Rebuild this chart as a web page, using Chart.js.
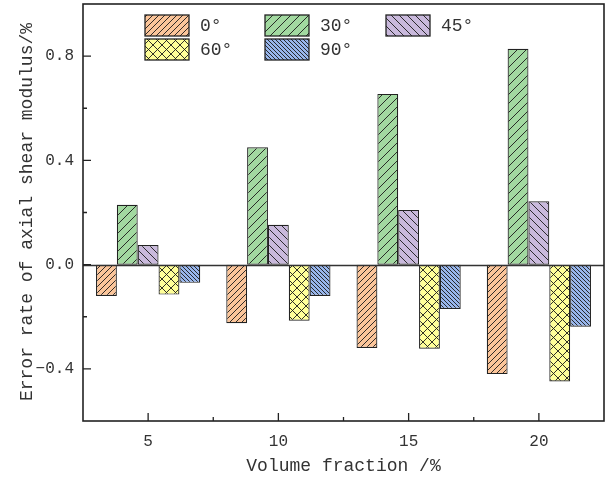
<!DOCTYPE html>
<html>
<head>
<meta charset="utf-8">
<script src="https://cdn.jsdelivr.net/npm/chart.js@4/dist/chart.umd.min.js"></script>
<style>
  html, body { margin: 0; padding: 0; background: #fff; }
  #wrap { width: 606px; height: 479px; }
</style>
</head>
<body>
<div id="wrap"><canvas id="errChart" width="606" height="479"></canvas></div>
<script>
(function () {
  "use strict";

  // volume fraction groups (%)
  const fractions = ["5", "10", "15", "20"];
  // fibre orientation of each series
  const angles = ["0°", "30°", "45°", "60°", "90°"];

  // error rate of the axial shear modulus, one list per orientation
  const err0 = [-0.12, -0.225, -0.32, -0.42];
  const err30 = [0.23, 0.45, 0.655, 0.828];
  const err45 = [0.075, 0.153, 0.21, 0.243];
  const err60 = [-0.115, -0.215, -0.323, -0.448];
  const err90 = [-0.07, -0.12, -0.17, -0.238];

  const yMajor = [-0.4, 0, 0.4, 0.8];
  const yMinor = [-0.2, 0.2, 0.6];

  const FONT = "'Liberation Mono', 'DejaVu Sans Mono', monospace";
  const INK = "#222";

  // hatch fill: colour + line direction + spacing
  function hatch(bg, dir, gap) {
    const c = document.createElement("canvas");
    c.width = gap;
    c.height = gap;
    const g = c.getContext("2d");
    g.fillStyle = bg;
    g.fillRect(0, 0, gap, gap);
    g.strokeStyle = "#1a1a1a";
    g.lineWidth = 0.9;
    g.beginPath();
    const dirs = dir === "x" ? ["/", "\\"] : [dir];
    for (const d of dirs) {
      for (let k = -1; k <= 1; k++) {
        if (d === "/") {
          g.moveTo(k * gap, gap);
          g.lineTo(k * gap + gap, 0);
        } else {
          g.moveTo(k * gap, 0);
          g.lineTo(k * gap + gap, gap);
        }
      }
    }
    g.stroke();
    return g.createPattern(c, "repeat");
  }

  const fills = [
    hatch("#fbc59a", "/", 6),
    hatch("#a2d9a0", "/", 9),
    hatch("#c9b9dc", "\\", 8),
    hatch("#ffff99", "x", 9),
    hatch("#98b6ec", "\\", 4),
  ];
  const series = [err0, err30, err45, err60, err90];

  const datasets = series.map(function (vals, i) {
    return {
      label: angles[i],
      data: vals,
      backgroundColor: fills[i],
      borderColor: INK,
      borderWidth: 1.2,
      borderSkipped: false,
      categoryPercentage: 0.8,
      barPercentage: 1.0,
    };
  });

  // frame, inward ticks, zero line, axis titles and the grid legend
  const decor = {
    id: "decor",
    afterDatasetsDraw(chart) {
      const ctx = chart.ctx;
      const a = chart.chartArea;
      const xs = chart.scales.x;
      const ys = chart.scales.y;
      ctx.save();

      ctx.strokeStyle = "#333";
      ctx.lineWidth = 1.3;
      const y0 = Math.round(ys.getPixelForValue(0)) + 0.5;
      ctx.beginPath();
      ctx.moveTo(a.left, y0);
      ctx.lineTo(a.right, y0);
      ctx.stroke();

      ctx.strokeStyle = INK;
      ctx.lineWidth = 1.6;
      ctx.strokeRect(a.left, a.top, a.right - a.left, a.bottom - a.top);

      ctx.lineWidth = 1.3;
      ctx.beginPath();
      for (const v of yMajor) {
        const p = ys.getPixelForValue(v);
        ctx.moveTo(a.left, p);
        ctx.lineTo(a.left + 8, p);
      }
      for (const v of yMinor) {
        const p = ys.getPixelForValue(v);
        ctx.moveTo(a.left, p);
        ctx.lineTo(a.left + 4, p);
      }
      for (let i = 0; i < fractions.length; i++) {
        const p = xs.getPixelForValue(i);
        ctx.moveTo(p, a.bottom);
        ctx.lineTo(p, a.bottom - 8);
        if (i > 0) {
          const m = (p + xs.getPixelForValue(i - 1)) / 2;
          ctx.moveTo(m, a.bottom);
          ctx.lineTo(m, a.bottom - 4);
        }
      }
      ctx.stroke();

      ctx.fillStyle = "#333";
      ctx.font = "18px " + FONT;
      ctx.textAlign = "center";
      ctx.textBaseline = "middle";
      ctx.fillText("Volume fraction /%", (a.left + a.right) / 2, 466);
      ctx.save();
      ctx.translate(27, 212);
      ctx.rotate(-Math.PI / 2);
      ctx.fillText("Error rate of axial shear modulus/%", 0, 0);
      ctx.restore();

      // legend: three columns, two rows
      const colX = [145, 265, 386];
      const rowY = [15, 39];
      ctx.textAlign = "left";
      datasets.forEach(function (ds, i) {
        const bx = colX[i % 3];
        const by = rowY[Math.floor(i / 3)];
        ctx.fillStyle = ds.backgroundColor;
        ctx.fillRect(bx, by, 44, 21);
        ctx.strokeStyle = INK;
        ctx.lineWidth = 1.3;
        ctx.strokeRect(bx, by, 44, 21);
        ctx.fillStyle = "#333";
        ctx.fillText(ds.label, bx + 55, by + 11);
      });

      ctx.restore();
    },
  };

  new Chart(document.getElementById("errChart"), {
    type: "bar",
    data: { labels: fractions, datasets: datasets },
    options: {
      responsive: false,
      animation: false,
      layout: { padding: { top: 4, right: 2, left: 0, bottom: 0 } },
      plugins: { legend: { display: false }, tooltip: { enabled: false } },
      scales: {
        x: {
          grid: { display: false, drawTicks: false },
          border: { display: false },
          ticks: { color: "#333", padding: 11, font: { family: FONT, size: 16 } },
          afterFit(s) {
            s.height = 58;
            s.paddingLeft = 0;
            s.paddingRight = 0;
          },
        },
        y: {
          min: -0.6,
          max: 1.0,
          grid: { display: false, drawTicks: false },
          border: { display: false },
          afterBuildTicks(s) {
            s.ticks = yMajor.map(function (v) {
              return { value: v };
            });
          },
          ticks: {
            color: "#333",
            padding: 9,
            font: { family: FONT, size: 16 },
            callback(v) {
              return (v < 0 ? "\u2212" : "") + Math.abs(v).toFixed(1);
            },
          },
          afterFit(s) {
            s.width = 83;
            s.paddingTop = 0;
            s.paddingBottom = 0;
          },
        },
      },
    },
    plugins: [decor],
  });
})();
</script>
</body>
</html>
